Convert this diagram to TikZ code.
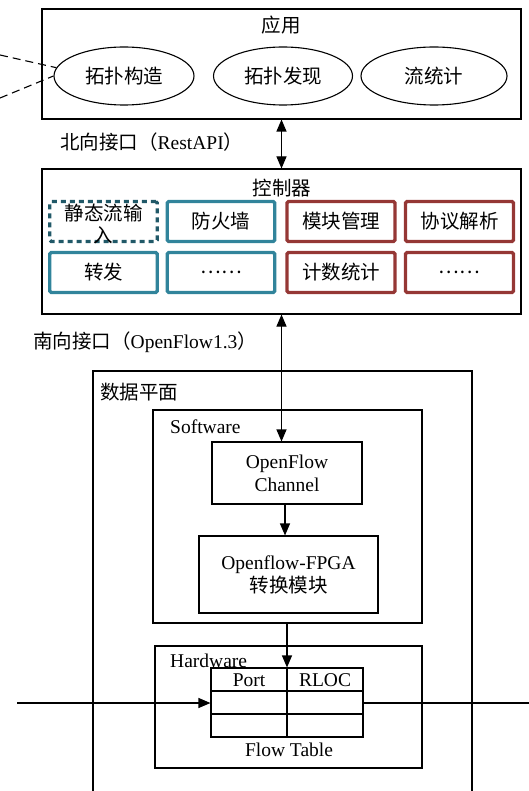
\documentclass[tikz,border=0pt]{standalone}
\usepackage{fontspec}
\setmainfont{Liberation Serif}
\newfontfamily\cjk{Noto Sans CJK SC}
\usetikzlibrary{arrows.meta,shapes.geometric}
\definecolor{tealc}{HTML}{31849B}
\definecolor{tealdark}{HTML}{215968}
\definecolor{redc}{HTML}{953735}
\tikzset{
  every node/.style={font=\fontsize{19.5}{23}\selectfont, inner sep=0pt},
  frame/.style={draw, line width=1.1pt, rectangle},
  oval/.style={draw, line width=1.1pt, ellipse},
  modteal/.style={draw=tealc, line width=3.4pt, rounded corners=1.5pt, minimum width=107.5pt, minimum height=40pt},
  modred/.style={draw=redc, line width=3.4pt, rounded corners=1.5pt, minimum width=108pt, minimum height=40pt},
  moddash/.style={draw=tealdark, line width=3.4pt, dash pattern=on 5pt off 4pt, rounded corners=1.5pt, minimum width=107.5pt, minimum height=40pt},
  tip/.style={-{Triangle[length=12pt,width=10pt]}},
  dtip/.style={{Triangle[length=12pt,width=10pt]}-{Triangle[length=12pt,width=10pt]}},
  conn/.style={line width=1.1pt},
}
\begin{document}
\begin{tikzpicture}[x=1pt,y=-1pt]
\useasboundingbox (0,0) rectangle (529,791);

% application layer
\node[frame, minimum width=479pt, minimum height=110pt] (app) at (281.5,64) {};
\node (apptitle) at (281,25) {\cjk 应用};
\node[oval, minimum width=140pt, minimum height=58pt] (e1) at (124,76) {\cjk 拓扑构造};
\node[oval, minimum width=139pt, minimum height=58pt] (e2) at (283,76) {\cjk 拓扑发现};
\node[oval, minimum width=146pt, minimum height=58pt] (e3) at (434,76) {\cjk 流统计};
\coordinate (d1) at (0,55);
\coordinate (d2) at (0,98);
\draw[conn, dash pattern=on 8pt off 5pt] (d1) -- (e1.173);
\draw[conn, dash pattern=on 8pt off 5pt] (d2) -- (e1.west);

\node[anchor=west] (nb) at (60,142) {{\cjk 北向接口（}RestAPI{\cjk ）}};

% controller
\node[frame, minimum width=479pt, minimum height=145pt] (ctrl) at (281.5,241.5) {};
\node (ctrltitle) at (282,188) {\cjk 控制器};
\node[moddash] (m1) at (103.5,221.5) {};
\node[align=center] (m1t) at (103.5,224) {\cjk 静态流输\\[-1pt]\cjk 入};
\node[modteal] (m2) at (221,221.5) {\cjk 防火墙};
\node[modred] (m3) at (341,221.5) {\cjk 模块管理};
\node[modred] (m4) at (459.5,221.5) {\cjk 协议解析};
\node[modteal] (m5) at (103.5,272.5) {\cjk 转发};
\node[modteal] (m6) at (221,272.5) {\cjk ……};
\node[modred] (m7) at (341,272.5) {\cjk 计数统计};
\node[modred] (m8) at (459.5,272.5) {\cjk ……};

\draw[conn, dtip] (app.south) -- (ctrl.north);

\node[anchor=west] (sb) at (33,342) {{\cjk 南向接口（}OpenFlow1.3{\cjk ）}};

% data plane
\node[frame, minimum width=379pt, minimum height=458pt] (dp) at (282.5,600) {};
\node[anchor=west] (dptitle) at (100,392) {\cjk 数据平面};

\node[frame, minimum width=269pt, minimum height=213pt] (sw) at (287.5,516.5) {};
\node[anchor=west] (swtitle) at (170,427) {Software};
\node[frame, minimum width=150pt, minimum height=62pt, align=center] (ch) at (287,473) {OpenFlow\\Channel};
\node[frame, minimum width=179pt, minimum height=77pt, align=center] (fpga) at (288.5,574.5) {Openflow-FPGA\\{\cjk 转换模块}};

\node[frame, minimum width=267pt, minimum height=122pt] (hw) at (288.5,707) {};
\node[anchor=west] (hwtitle) at (170,661) {Hardware};

% flow table
\node[frame, minimum width=152pt, minimum height=69pt] (ft) at (287,702.5) {};
\draw[conn] ([yshift=-11.5pt]ft.west) -- ([yshift=-11.5pt]ft.east);
\draw[conn] ([yshift=11.5pt]ft.west) -- ([yshift=11.5pt]ft.east);
\draw[line width=1.8pt] (ft.north) -- (ft.south);
\node (port) at (249,680) {Port};
\node (rloc) at (325,680) {RLOC};
\node (ftlabel) at (289,750) {Flow Table};

% connectors
\draw[conn, dtip] (ctrl.south) -- (ctrl.south |- ch.north);
\draw[conn, tip] (ch.south -| 285,0) -- (fpga.north -| 285,0);
\draw[conn, tip] (sw.south -| ft.north) -- (ft.north);
\coordinate (inl) at (17,703);
\coordinate (outr) at (529,703);
\draw[conn, tip] (inl) -- (inl -| ft.west);
\draw[conn] (outr -| ft.east) -- (outr);
\end{tikzpicture}
\end{document}
